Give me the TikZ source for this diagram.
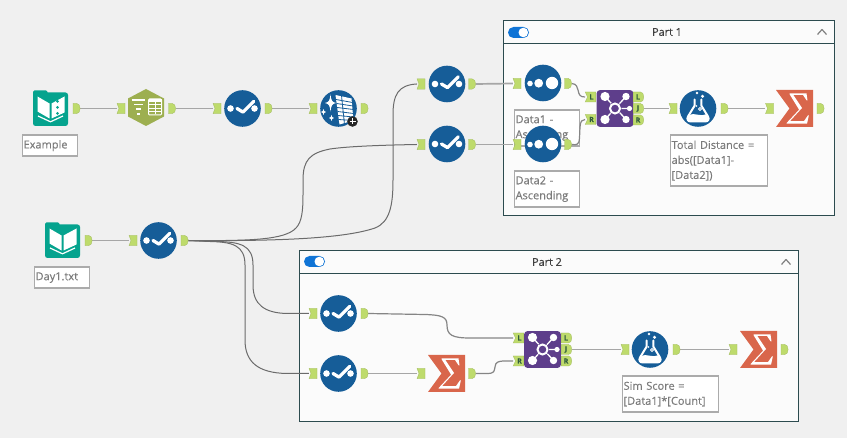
\documentclass[tikz,border=0pt]{standalone}
\usepackage{fontspec}
\setmainfont{Open Sans}[FakeBold=0.2]
\newfontfamily\titlefont{Open Sans}[FakeBold=0.6]
\usetikzlibrary{calc}
\definecolor{canvas}{HTML}{F0F0F0}
\definecolor{panel}{HTML}{FBFBFB}
\definecolor{panelline}{HTML}{2C4B4F}
\definecolor{portgreen}{HTML}{BEDB6C}
\definecolor{portletter}{HTML}{2F5A3C}
\definecolor{toolblue}{HTML}{165D98}
\definecolor{joinpurple}{HTML}{5E3E8B}
\definecolor{sumred}{HTML}{D9664B}
\definecolor{booktealc}{HTML}{05A38E}
\definecolor{hexolive}{HTML}{9DAF50}
\definecolor{togglec}{HTML}{0F74D6}
\definecolor{notegrey}{HTML}{7B7B7B}
\definecolor{noteline}{HTML}{ABABAB}
\pgfdeclarelayer{panels}
\pgfdeclarelayer{notes}
\pgfdeclarelayer{wires}
\pgfsetlayers{panels,notes,wires,main}
\tikzset{
  anchorbox/.style={rectangle,inner sep=0pt,minimum height=11pt,minimum width=#1},
  portfill/.style={fill=portgreen,draw=portgreen!85!black,line width=.3pt},
  disc/.style={circle,fill=toolblue,inner sep=0pt,minimum size=36.6pt},
  iconbox/.style={rectangle,inner sep=0pt,minimum size=36pt},
  portlabel/.style={font=\fontsize{7}{7}\selectfont\bfseries,text=portletter,inner sep=0pt},
  notebox/.style={draw=noteline,line width=1.2pt,fill=white,rectangle,inner sep=0pt,
    text=notegrey,font=\fontsize{11}{15}\selectfont,align=left,anchor=north west},
  group/.style={draw=panelline,line width=1pt,fill=panel},
  grouptitle/.style={font=\fontsize{10.8}{14}\selectfont\titlefont,text=black!75,inner sep=0pt},
  straightwire/.style={draw=black!35,line width=1.7pt},
  bentwire/.style={draw=black!48,line width=1.2pt},
  longwire/.style={draw=black!58,line width=1pt},
  whiteline/.style={draw=white,line cap=round,line join=round}
}
% Ports: an input flag with a notched left edge, an output tab with a rounded right edge.
\newcommand{\inport}[4][]{%
  \node[anchorbox=8pt] (#2) at (#3,#4) {};
  \fill[portfill,shift={(#3,#4)}] (-4,-5.2) -- (4,-5.2) -- (4,5.2) -- (-4,5.2) -- (-2,0) -- cycle;}
\newcommand{\outport}[3]{%
  \node[anchorbox=7pt] (#1) at (#2,#3) {};
  \fill[portfill,shift={(#2,#3)}] (-3.5,-5.2) -- (0,-5.2) .. controls (2.5,-5.2) and (3.6,-2.5) .. (3.6,0)
     .. controls (3.6,2.5) and (2.5,5.2) .. (0,5.2) -- (-3.5,5.2) -- cycle;}
\newcommand{\joinin}[4]{%
  \node[anchorbox=10.5pt] (#1) at (#2,#3) {};
  \fill[portfill,shift={(#2,#3)}] (-5.3,-5) -- (5.3,-5) -- (5.3,5) -- (-5.3,5) -- (-3,0) -- cycle;
  \node[portlabel] at (#2+1,#3) {#4};}
\newcommand{\joinout}[4]{%
  \node[anchorbox=10.5pt] (#1) at (#2,#3) {};
  \fill[portfill,shift={(#2,#3)}] (-5.3,-5) -- (2,-5) .. controls (4,-5) and (5.3,-3) .. (5.3,0)
     .. controls (5.3,3) and (4,5) .. (2,5) -- (-5.3,5) -- cycle;
  \node[portlabel] at (#2-.5,#3) {#4};}
% Blue round tool with two dots and a tick.
\newcommand{\tickdisc}[3]{%
  \node[disc] (#1) at (#2,#3) {};
  \begin{scope}[shift={(#2,#3)}]
    \fill[white] (-12,0) circle (3.3) (12,0) circle (3.3);
    \draw[whiteline,line width=3.3pt] (-5.5,0) -- (0.5,3.6) -- (11.3,-7.2);
  \end{scope}}
% Blue round tool with three growing dots.
\newcommand{\dotsdisc}[3]{%
  \node[disc] (#1) at (#2,#3) {};
  \fill[white,shift={(#2,#3)}] (-13,.5) circle (2.8) (-4.3,.2) circle (4.4) (9,0) circle (6.2);}
% Blue round tool with a flask.
\newcommand{\flaskdisc}[3]{%
  \node[disc] (#1) at (#2,#3) {};
  \begin{scope}[shift={(#2,#3)}]
    \fill[white] (4.5,-12.2) circle (1.7) (-1,-15.5) circle (1.3);
    \draw[whiteline,line width=2pt] (-3.3,-9) -- (-3.3,-3) -- (-10,8)
      .. controls (-11.5,11) and (-10,13) .. (-7,13) -- (7,13)
      .. controls (10,13) and (11.5,11) .. (10,8) -- (3.3,-3) -- (3.3,-9);
    \fill[white] (-9,6.5) .. controls (-4,3.5) and (3,9) .. (9,5.5) -- (10.5,10)
      .. controls (10.5,12) and (9,13) .. (7,13) -- (-7,13) .. controls (-9,13) and (-10.5,12) .. (-10.5,10) -- cycle;
    \draw[white,line width=.9pt] (2,0.5) circle (1.6);
    \fill[white] (-1.5,-2.5) circle (.8);
  \end{scope}}
% Red sigma tool.
\newcommand{\sigmatool}[3]{%
  \node[iconbox] (#1) at (#2,#3) {};
  \begin{scope}[shift={(#2,#3)}]
    \fill[sumred] (-18.5,-18.5) -- (18.5,-18.5) -- (18.5,18.5) -- (-18.5,18.5) -- (-5,0) -- cycle;
    \fill[white] (-5,-15) -- (12,-15) -- (13,-8) -- (12.2,-8) -- (8.5,-13.6) -- (-1.2,-13.6) -- (7.5,-.5)
      -- (-4.5,12.6) -- (9.5,12.6) -- (13.5,6.8) -- (14.4,6.8) -- (12.5,15.2) -- (-8,15.2) -- (-8,14.6) -- (4.6,1.2)
      -- (-5,-14.4) -- cycle;
  \end{scope}}
% Purple join tool.
\newcommand{\jointool}[3]{%
  \node[iconbox] (#1) at (#2,#3) {};
  \begin{scope}[shift={(#2,#3)}]
    \fill[joinpurple,rounded corners=3pt] (-18.3,-18.3) rectangle (18.3,18.3);
    \draw[white,line width=1.3pt] (-10,-12) -- (11,11) (-10,11) -- (11,-12) (0,0) -- (15,0);
    \fill[white] (-10,-12) circle (4.6) (11,-12) circle (3.7) (-10,11) circle (4.6) (11,11) circle (3.7) (14.5,0) circle (2.6);
    \fill[joinpurple] (0,0) circle (6.5);
    \draw[white,line width=2pt] (0,0) circle (5);
  \end{scope}}
% Teal book tool, open pages on a tabbed folder.
\newcommand{\booktool}[3]{%
  \node[iconbox] (#1) at (#2,#3) {};
  \begin{scope}[shift={(#2,#3)}]
    \fill[booktealc,rounded corners=2.5pt] (-17.5,-16) rectangle (17.5,17.5);
    \fill[booktealc,rounded corners=1.5pt] (-17.5,-18) rectangle (-3,-10);
    \fill[white] (-13,-12) -- (-1,-5) -- (-1,10) -- (-13,3) -- cycle;
    \fill[white] (1,-5) -- (14,-12) -- (14,4) -- (1,10) -- cycle;
    \draw[white,line width=1.2pt] (-12.5,7.5) -- (0,13.3) -- (12.5,7.5);
  \end{scope}}
\newcommand{\toggle}[2]{%
  \fill[togglec,rounded corners=5.5pt] (#1,#2) rectangle (#1+21,#2+11);
  \fill[white] (#1+15.3,#2+5.5) circle (4.8);}
\newcommand{\foldmark}[2]{%
  \draw[black!50,line width=1.2pt,line join=round] (#1-4.5,#2+2.5) -- (#1,#2-2.5) -- (#1+4.5,#2+2.5);}
\begin{document}
\begin{tikzpicture}[x=1pt,y=-1pt]
\useasboundingbox (0,0) rectangle (847,438);

\begin{pgfonlayer}{panels}
  \fill[canvas] (0,0) rectangle (847,438);
  % Part 1 container
  \path[group] (503.5,20.5) rectangle (834,216);
  \draw[panelline,line width=1pt] (503.5,44) -- (834,44);
  \node[grouptitle] (partone) at (667,32) {Part 1};
  \toggle{508}{27}
  \foldmark{822}{32}
  % Part 2 container
  \path[group] (299.5,250.5) rectangle (798,422);
  \draw[panelline,line width=1pt] (299.5,274) -- (798,274);
  \node[grouptitle] (parttwo) at (547,262) {Part 2};
  \toggle{304}{256}
  \foldmark{786}{262}
\end{pgfonlayer}

\begin{pgfonlayer}{notes}
  \node[notebox,minimum width=55pt,minimum height=21pt,text width=52pt,inner xsep=1.5pt] (noteex) at (21.5,134.5) {Example};
  \node[notebox,minimum width=55pt,minimum height=21pt,text width=52pt,inner xsep=1.5pt] (noteday) at (33.5,266.5) {Day1.txt};
  \node[notebox,minimum width=65.5pt,minimum height=36pt,text width=62.5pt,inner xsep=1.5pt] (noted1) at (513.5,109.5) {Data1 -\\Ascending};
  \node[notebox,minimum width=65.5pt,minimum height=36pt,text width=62.5pt,inner xsep=1.5pt] (noted2) at (513.5,170.5) {Data2 -\\Ascending};
  \node[notebox,minimum width=97pt,minimum height=51pt,text width=94pt,inner xsep=1.5pt] (notedist) at (669.5,134.5) {Total Distance =\\abs([Data1]-\\{}[Data2])};
  \node[notebox,minimum width=96pt,minimum height=36pt,text width=93pt,inner xsep=1.5pt] (notesim) at (621.5,375.5) {Sim Score =\\{}[Data1]*[Count]};
\end{pgfonlayer}

% Top row
\booktool{ex}{50.5}{108.5}
\begin{scope}[shift={(50.5,108.5)}]
  \fill[booktealc] (7,-7) circle (1.5) (7,-1) circle (1.5) (7,5) circle (1.5);
\end{scope}
\outport{exo}{76.5}{108.5}
\inport{hexi}{121}{108.5}{}
\node[iconbox] (hex) at (146,107.5) {};
\begin{scope}[shift={(146,107.5)}]
  \fill[hexolive] (0,-18.5) -- (18,-9) -- (18,9) -- (0,18.5) -- (-18,9) -- (-18,-9) -- cycle;
  \draw[white,line width=1.6pt] (-14.5,-7.5) -- (-1,-7.5) (-12,-3) -- (-3.5,-3) (-10,1.8) -- (-5.5,1.8) (-9,6.5) -- (-6.5,6.5);
  \draw[white,line width=1pt,rounded corners=1pt] (2.5,-8.5) rectangle (15.5,7.5);
  \fill[white] (2.5,-8.5) rectangle (15.5,-5.5);
  \draw[white,line width=.8pt] (9,-8) -- (9,7) (3,-3) -- (15,-3) (3,.7) -- (15,.7) (3,4.2) -- (15,4.2);
\end{scope}
\outport{hexo}{172}{108.5}
\inport{ti}{217}{108.5}{}
\tickdisc{t}{242.5}{108.5}
\outport{to}{268.5}{108.5}
\inport{bi}{313}{108.5}{}
\node[disc] (b) at (338.5,108.5) {};
\begin{scope}[shift={(338.5,108.5)}]
  \begin{scope}
    \clip (0,0) circle (18.3);
    \fill[white] (-3,-13.5) -- (13,-10) -- (15,12) -- (1,16) -- cycle;
    \draw[toolblue,line width=.8pt] (-2.5,-9) -- (14,-6) (-2,-5) -- (14.5,-2.5) (-1.5,-1) -- (15,1)
      (-1,3) -- (15,5) (-.5,7) -- (15,8.5) (0,11) -- (15,12) (3,-13) -- (6,16);
  \end{scope}
  \fill[white] (-8,-14) .. controls (-7.3,-8) and (-6.5,-6.5) .. (-2.5,-5.5) .. controls (-6.5,-4.5) and (-7.3,-3) .. (-8,3)
    .. controls (-8.7,-3) and (-9.5,-4.5) .. (-13.5,-5.5) .. controls (-9.5,-6.5) and (-8.7,-8) .. (-8,-14) -- cycle;
  \fill[white] (-15,.5) .. controls (-14.7,2.5) and (-14.2,3) .. (-12.5,3.5) .. controls (-14.2,4) and (-14.7,4.5) .. (-15,6.5)
    .. controls (-15.3,4.5) and (-15.8,4) .. (-17.5,3.5) .. controls (-15.8,3) and (-15.3,2.5) .. (-15,.5) -- cycle;
  \fill[white] (-7,6.5) .. controls (-6.7,8.5) and (-6.2,9) .. (-4.5,9.5) .. controls (-6.2,10) and (-6.7,10.5) .. (-7,12.5)
    .. controls (-7.3,10.5) and (-7.8,10) .. (-9.5,9.5) .. controls (-7.8,9) and (-7.3,8.5) .. (-7,6.5) -- cycle;
  \fill[black!85] (14,13) circle (5.3);
  \draw[white,line width=1.4pt] (11,13) -- (17,13) (14,10) -- (14,16);
\end{scope}
\outport{bo}{364.5}{108.5}

% Day1 row
\booktool{day}{62.5}{240.5}
\outport{dayo}{88.5}{240.5}
\inport{fi}{133}{240.5}{}
\tickdisc{f}{158.5}{240.5}
\outport{fo}{184.5}{240.5}

% Part 1 tools
\inport{ai}{421}{84}{}
\tickdisc{a}{447}{84}
\outport{ao}{472}{84}
\inport{ci}{421}{144.5}{}
\tickdisc{c}{447}{144}
\outport{co}{472}{144.5}
\inport{s1i}{517}{83.5}{}
\dotsdisc{s1}{543}{83}
\outport{s1o}{568}{83.5}
\inport{s2i}{517}{144.5}{}
\dotsdisc{s2}{543}{144}
\outport{s2o}{568}{144.5}
\joinin{jli}{590.5}{97}{L}
\joinin{jri}{590.5}{119.5}{R}
\jointool{j}{615}{108.5}
\joinout{jlo}{638.5}{97}{L}
\joinout{jjo}{638.5}{108.5}{J}
\joinout{jro}{638.5}{120}{R}
\inport{di}{673}{108.5}{}
\flaskdisc{d}{698}{108.5}
\outport{do}{724.5}{108.5}
\inport{ei}{769.5}{108.5}{}
\sigmatool{e}{794.5}{108.5}
\outport{eo}{820.5}{108.5}

% Part 2 tools
\inport{gi}{313}{313.5}{}
\tickdisc{g}{338.5}{313.5}
\outport{go}{364.5}{313.5}
\inport{hi}{313}{373.5}{}
\tickdisc{h}{338.5}{373.5}
\outport{ho}{364.5}{373.5}
\inport{ki}{421}{373.5}{}
\sigmatool{k}{446.5}{373.5}
\outport{ko}{472}{373.5}
\joinin{mli}{518.5}{338}{L}
\joinin{mri}{518.5}{361}{R}
\jointool{m}{542.5}{349.5}
\joinout{mlo}{566.5}{338}{L}
\joinout{mjo}{566.5}{349.5}{J}
\joinout{mro}{566.5}{361}{R}
\inport{ni}{625}{349.5}{}
\flaskdisc{n}{650}{349.5}
\outport{no}{676.5}{349.5}
\inport{pi}{733}{349.5}{}
\sigmatool{q}{758.5}{349.5}
\outport{qo}{784.5}{349.5}

\begin{pgfonlayer}{wires}
  \draw[straightwire] (exo.east) -- (hexi.west);
  \draw[straightwire] (hexo.east) -- (ti.west);
  \draw[straightwire] (to.east) -- (bi.west);
  \draw[straightwire] (dayo.east) -- (fi.west);
  \draw[straightwire] (ao.east) -- (s1i.west);
  \draw[straightwire] (co.east) -- (s2i.west);
  \draw[straightwire] (jjo.east) -- (di.west);
  \draw[straightwire] (do.east) -- (ei.west);
  \draw[straightwire] (mjo.east) -- (ni.west);
  \draw[straightwire] (no.east) -- (pi.west);
  \draw[straightwire] (ho.east) -- (ki.west);
  \draw[bentwire] (s1o.east) .. controls (577,84) and (577,87) .. (578,90)
     .. controls (579,95) and (580,97) .. (jli.west);
  \draw[bentwire] (s2o.east) .. controls (577,145) and (579,145) .. (579.5,138) -- (580,127)
     .. controls (580.5,121) and (582,119.5) .. (jri.west);
  \draw[bentwire] (go.east) -- (425,314.5) .. controls (442,315) and (447,317) .. (447,325)
     .. controls (447,335) and (452,338) .. (470,338) -- (mli.west);
  \draw[bentwire] (ko.east) -- (487,373.5) .. controls (495,373.5) and (494,371) .. (495,367)
     .. controls (495.5,362) and (498,361.5) .. (503,361) -- (mri.west);
  % Wires leaving the second select towards both containers
  \draw[longwire] (fo.east) .. controls (250,241) and (285,240) .. (296,228)
     .. controls (302,222) and (303,210) .. (303,195) -- (303,180)
     .. controls (303,160) and (310,153) .. (330,149) .. controls (350,146) and (390,145) .. (ci.west);
  \draw[longwire] (fo.east) .. controls (260,241) and (340,240) .. (375,228)
     .. controls (390,222) and (393,205) .. (393,180) -- (393,115)
     .. controls (393,95) and (398,85) .. (ai.west);
  \draw[longwire] (fo.east) -- (217,241.5) .. controls (240,242) and (253,245) .. (253,265) -- (253,285)
     .. controls (253,305) and (265,313) .. (287,313.5) -- (gi.west);
  \draw[longwire] (fo.east) -- (210,241.5) .. controls (232,242) and (245,245) .. (245,265) -- (245,340)
     .. controls (245,362) and (258,373) .. (287,373.5) -- (hi.west);
\end{pgfonlayer}
\end{tikzpicture}
\end{document}
